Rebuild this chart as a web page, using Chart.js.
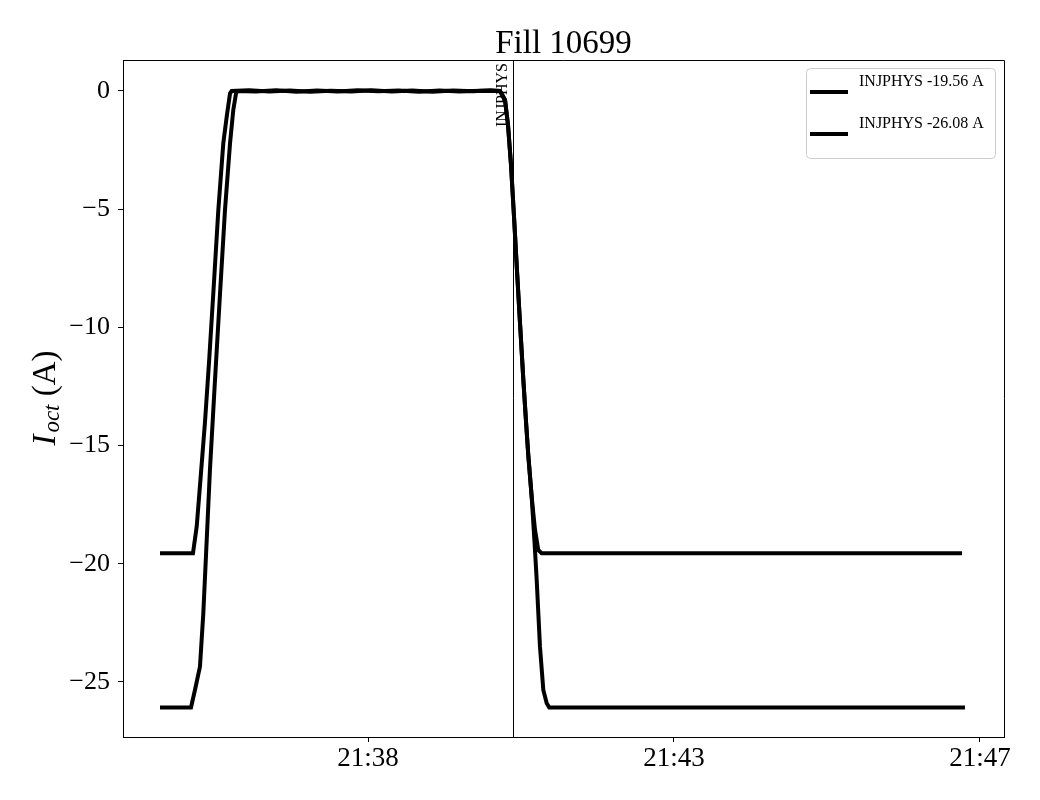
<!DOCTYPE html>
<html>
<head>
<meta charset="utf-8">
<title>Fill 10699</title>
<script src="https://cdn.jsdelivr.net/npm/chart.js@4"></script>
<style>
  body { margin: 0; background: #fff; }
  #wrap { width: 1040px; height: 800px; }
</style>
</head>
<body>
<div id="wrap"><canvas id="fillChart" width="1040" height="800"></canvas></div>
<script>
// time axis: minutes after 21:00
const tickMinutes = [38.5, 43, 47.5];
const yTicks = [-25, -20, -15, -10, -5, 0];
const injTime = 40.632;
const injLabel = "INJPHYS";

// series 1: INJPHYS -19.56 A
const t1 = [35.441, 35.926, 35.981, 36.040, 36.103, 36.166, 36.225, 36.299, 36.372, 36.422, 36.471, 36.496,
  36.75, 37.05, 37.35, 37.65, 37.95, 38.25, 38.55, 38.85, 39.15, 39.45, 39.75, 40.05, 40.3, 40.441,
  40.515, 40.559, 40.603, 40.647, 40.691, 40.735, 40.784, 40.824, 40.857, 40.907, 40.956, 41.004, 41.054, 47.235];
const i1 = [-19.56, -19.56, -18.43, -16.3, -14.0, -11.3, -8.56, -5.03, -2.21, -1.09, -0.10, 0.0,
  0.03, -0.02, 0.02, -0.03, 0.01, -0.02, 0.03, -0.02, 0.02, -0.03, 0.02, -0.01, 0.03, 0.0,
  -0.38, -1.44, -3.13, -5.3, -7.6, -9.8, -12.2, -14.0, -15.4, -17.17, -18.57, -19.42, -19.56, -19.56];

// series 2: INJPHYS -26.08 A
const t2 = [35.441, 35.897, 35.956, 36.029, 36.078, 36.128, 36.176, 36.250, 36.324, 36.397, 36.471, 36.519, 36.559, 36.578,
  36.85, 37.15, 37.45, 37.75, 38.05, 38.35, 38.65, 38.95, 39.25, 39.55, 39.85, 40.15, 40.441,
  40.515, 40.559, 40.603, 40.647, 40.691, 40.735, 40.784, 40.824, 40.857, 40.907, 40.949, 40.981, 41.029, 41.078, 41.128, 41.166, 47.279];
const i2 = [-26.08, -26.08, -25.33, -24.35, -22.10, -19.0, -16.0, -12.22, -8.56, -5.03, -2.21, -0.80, -0.10, 0.0,
  -0.02, 0.03, -0.03, 0.02, -0.02, 0.03, -0.01, 0.02, -0.03, 0.02, -0.02, 0.01, 0.0,
  -0.38, -1.44, -3.13, -5.3, -7.6, -9.8, -12.2, -14.0, -15.4, -17.16, -19.1, -20.69, -23.51, -25.34, -25.90, -26.08, -26.08];

const labels = ["INJPHYS -19.56 A", "INJPHYS -26.08 A"];

const serif = "'Liberation Serif', 'DejaVu Serif', serif";

function toPoints(t, v) {
  return t.map((x, k) => ({ x: x, y: v[k] }));
}

// frame, title, y label, injection marker, legend
const decorations = {
  id: "decorations",
  afterDraw(chart) {
    const ctx = chart.ctx;
    const a = chart.chartArea;
    const xs = chart.scales.x;

    ctx.save();
    ctx.strokeStyle = "#000";
    ctx.lineWidth = 1;
    ctx.beginPath();
    ctx.moveTo(a.left, a.top + 0.5);
    ctx.lineTo(a.right + 0.5, a.top + 0.5);
    ctx.lineTo(a.right + 0.5, a.bottom);
    ctx.stroke();

    // injection marker
    const ix = Math.round(xs.getPixelForValue(injTime)) + 0.5;
    ctx.beginPath();
    ctx.moveTo(ix, a.top);
    ctx.lineTo(ix, a.bottom);
    ctx.stroke();
    ctx.save();
    ctx.translate(ix - 11, 127);
    ctx.rotate(-Math.PI / 2);
    ctx.fillStyle = "#000";
    ctx.font = "16px " + serif;
    ctx.textAlign = "left";
    ctx.textBaseline = "middle";
    ctx.fillText(injLabel, 0, 0);
    ctx.restore();

    // title
    ctx.fillStyle = "#000";
    ctx.font = "33px " + serif;
    ctx.textAlign = "center";
    ctx.textBaseline = "alphabetic";
    ctx.fillText("Fill 10699", (a.left + a.right) / 2, 53);

    // y label I_oct (A)
    ctx.save();
    ctx.translate(46, 398);
    ctx.rotate(-Math.PI / 2);
    ctx.textAlign = "left";
    ctx.textBaseline = "middle";
    ctx.font = "italic 33px " + serif;
    const wI = ctx.measureText("I").width + 2;
    ctx.font = "italic 23px " + serif;
    const wSub = ctx.measureText("oct").width;
    ctx.font = "33px " + serif;
    const wA = ctx.measureText(" (A)").width;
    let px = -(wI + wSub + wA) / 2;
    ctx.font = "italic 33px " + serif;
    ctx.fillText("I", px, 0);
    px += wI;
    ctx.font = "italic 23px " + serif;
    ctx.fillText("oct", px, 7);
    px += wSub;
    ctx.font = "33px " + serif;
    ctx.fillText(" (A)", px, 0);
    ctx.restore();

    // legend
    const lx = 806.5, ly = 68.5, lw = 189, lh = 90;
    ctx.beginPath();
    ctx.roundRect(lx, ly, lw, lh, 4);
    ctx.fillStyle = "rgba(255,255,255,0.8)";
    ctx.fill();
    ctx.strokeStyle = "#cccccc";
    ctx.stroke();
    chart.data.datasets.forEach((ds, k) => {
      const yy = 92 + 42 * k;
      ctx.beginPath();
      ctx.strokeStyle = "#000";
      ctx.lineWidth = 4;
      ctx.moveTo(810, yy);
      ctx.lineTo(848, yy);
      ctx.stroke();
      ctx.fillStyle = "#000";
      ctx.font = "16px " + serif;
      ctx.textAlign = "left";
      ctx.textBaseline = "middle";
      ctx.fillText(ds.label, 859, yy - 10);
    });
    ctx.restore();
  }
};

new Chart(document.getElementById("fillChart"), {
  type: "line",
  data: {
    datasets: [
      { label: labels[0], data: toPoints(t1, i1) },
      { label: labels[1], data: toPoints(t2, i2) }
    ]
  },
  options: {
    responsive: false,
    animation: false,
    devicePixelRatio: 1,
    layout: { padding: { top: 60, right: 36, left: 0, bottom: 0 } },
    elements: {
      line: { borderColor: "#000", borderWidth: 4, tension: 0, fill: false },
      point: { radius: 0 }
    },
    plugins: {
      legend: { display: false },
      title: { display: false },
      tooltip: { enabled: false }
    },
    scales: {
      x: {
        type: "linear",
        min: 34.897,
        max: 47.853,
        afterBuildTicks: (s) => { s.ticks = tickMinutes.map(v => ({ value: v })); },
        afterFit: (s) => { s.height = 63; },
        grid: { display: true, drawOnChartArea: false, drawTicks: true, tickLength: 5, color: "#000" },
        border: { display: true, color: "#000", width: 1 },
        ticks: {
          color: "#000",
          padding: 1,
          maxRotation: 0,
          font: { family: serif, size: 27 },
          callback: (v) => "21:" + String(Math.floor(v)).padStart(2, "0")
        }
      },
      y: {
        min: -27.33,
        max: 1.311,
        afterBuildTicks: (s) => { s.ticks = yTicks.map(v => ({ value: v })); },
        afterFit: (s) => { s.width = 123; },
        grid: { display: true, drawOnChartArea: false, drawTicks: true, tickLength: 5, color: "#000" },
        border: { display: true, color: "#000", width: 1 },
        ticks: {
          color: "#000",
          padding: 8,
          font: { family: serif, size: 26 },
          callback: (v) => String(v).replace("-", "\u2212")
        }
      }
    }
  },
  plugins: [decorations]
});
</script>
</body>
</html>
